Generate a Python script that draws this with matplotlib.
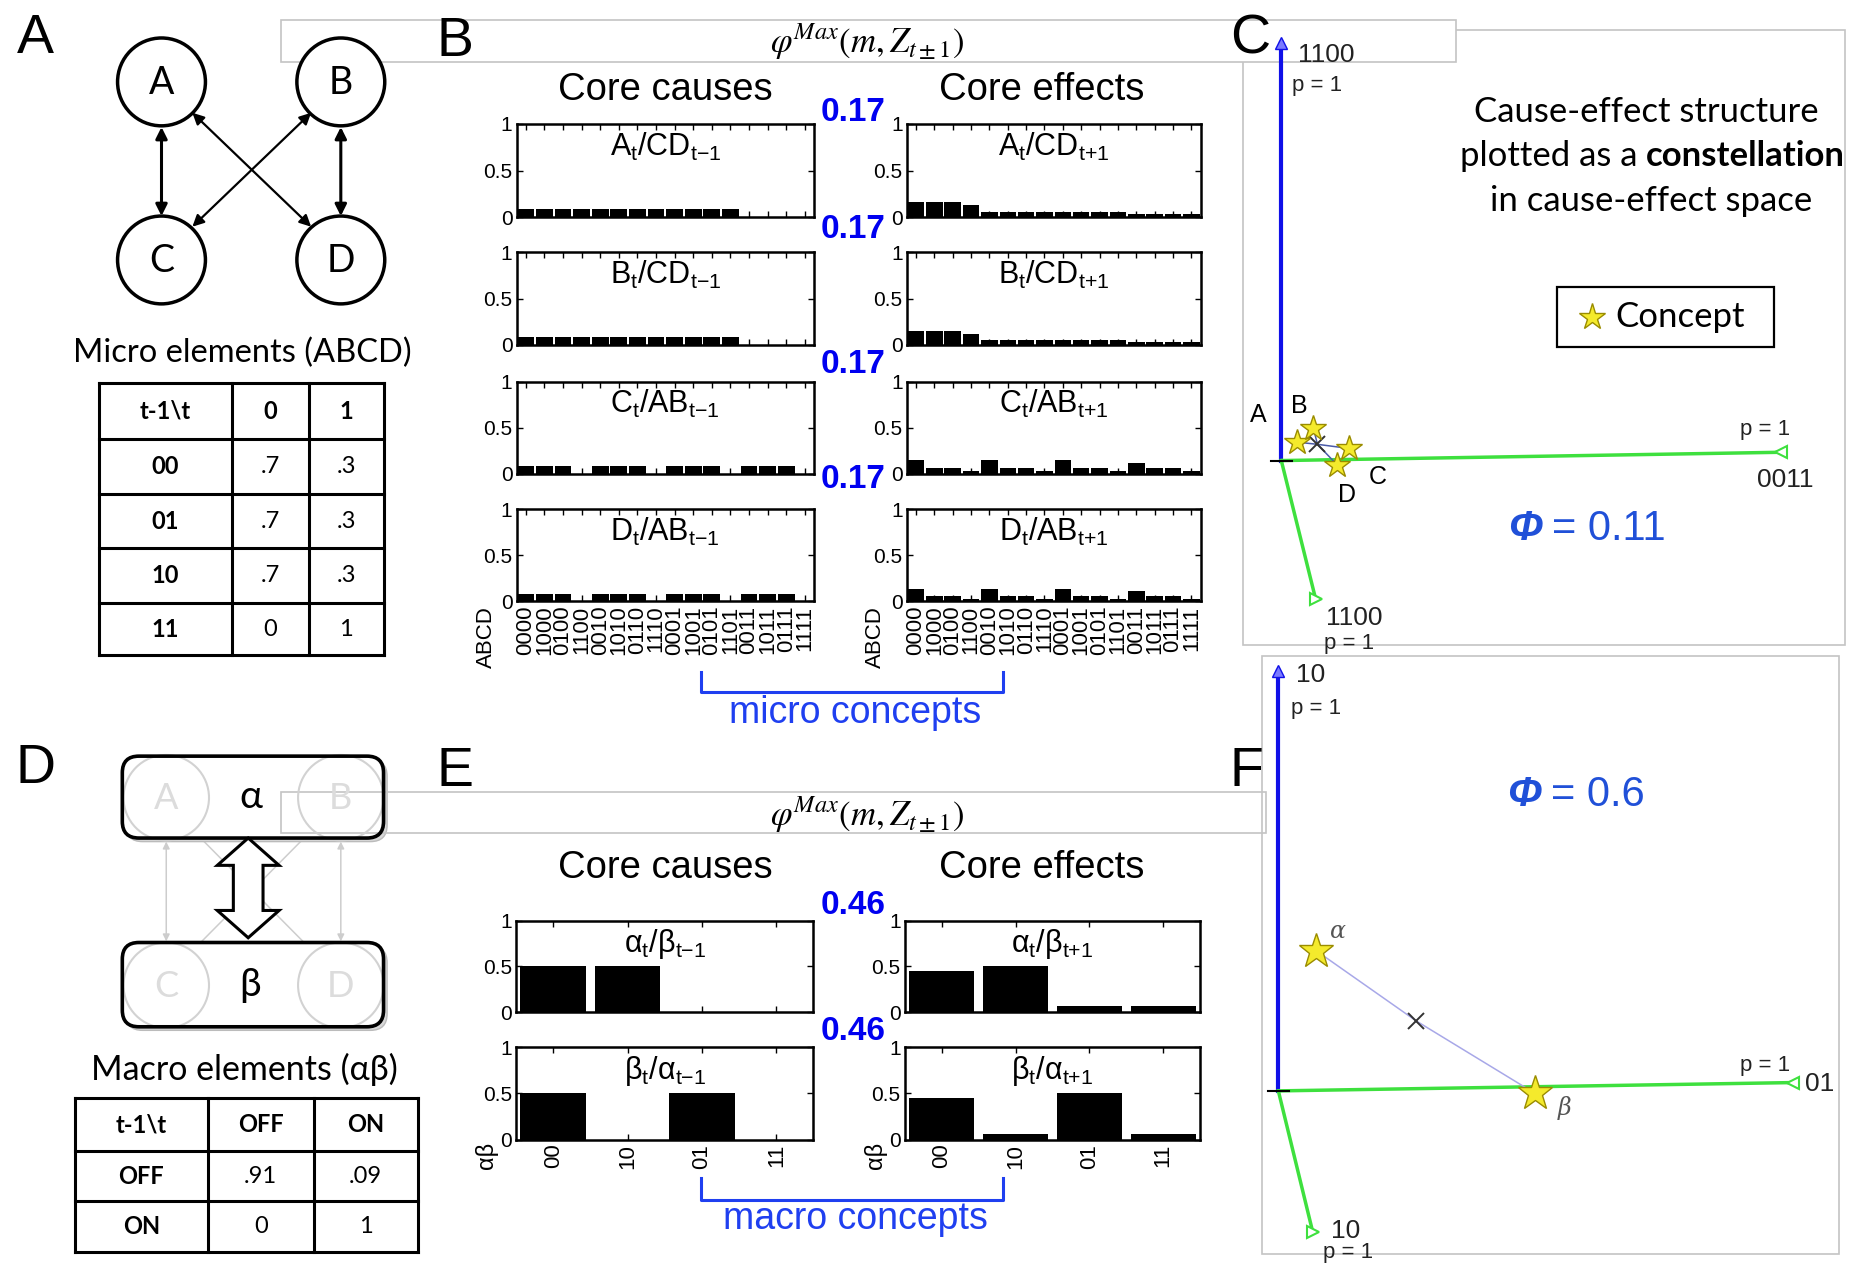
import matplotlib
matplotlib.use('Agg')
import matplotlib.pyplot as plt
from matplotlib.patches import Circle, FancyBboxPatch, Rectangle, Polygon, FancyArrowPatch

# ---------------- data ----------------
micro_states = ['0000', '1000', '0100', '1100', '0010', '1010', '0110', '1110',
                '0001', '1001', '0101', '1101', '0011', '1011', '0111', '1111']
micro_cause_titles = [r'A_t/CD_{t{-}1}', r'B_t/CD_{t{-}1}', r'C_t/AB_{t{-}1}', r'D_t/AB_{t{-}1}']
micro_effect_titles = [r'A_t/CD_{t{+}1}', r'B_t/CD_{t{+}1}', r'C_t/AB_{t{+}1}', r'D_t/AB_{t{+}1}']
cause_A = [0.085, 0.085, 0.085, 0.085, 0.085, 0.085, 0.085, 0.085, 0.085, 0.085, 0.085, 0.085, 0, 0, 0, 0]
cause_B = [0.085, 0.085, 0.085, 0.085, 0.085, 0.085, 0.085, 0.085, 0.085, 0.085, 0.085, 0.085, 0, 0, 0, 0]
cause_C = [0.085, 0.085, 0.085, 0, 0.085, 0.085, 0.085, 0, 0.085, 0.085, 0.085, 0, 0.085, 0.085, 0.085, 0]
cause_D = [0.085, 0.085, 0.085, 0, 0.085, 0.085, 0.085, 0, 0.085, 0.085, 0.085, 0, 0.085, 0.085, 0.085, 0]
effect_A = [0.16, 0.16, 0.16, 0.13, 0.06, 0.06, 0.06, 0.06, 0.06, 0.06, 0.06, 0.06, 0.035, 0.035, 0.035, 0.035]
effect_B = [0.15, 0.15, 0.15, 0.12, 0.055, 0.055, 0.055, 0.055, 0.055, 0.055, 0.055, 0.055, 0.03, 0.03, 0.03, 0.03]
effect_C = [0.15, 0.06, 0.06, 0.03, 0.15, 0.06, 0.06, 0.03, 0.15, 0.06, 0.06, 0.03, 0.12, 0.06, 0.06, 0.03]
effect_D = [0.14, 0.06, 0.06, 0.03, 0.14, 0.06, 0.06, 0.03, 0.14, 0.06, 0.06, 0.03, 0.11, 0.06, 0.06, 0.03]
micro_phi = [0.17, 0.17, 0.17, 0.17]

macro_states = ['00', '10', '01', '11']
macro_cause_titles = [r'\alpha_t/\beta_{t{-}1}', r'\beta_t/\alpha_{t{-}1}']
macro_effect_titles = [r'\alpha_t/\beta_{t{+}1}', r'\beta_t/\alpha_{t{+}1}']
cause_alpha = [0.5, 0.5, 0, 0]
cause_beta = [0.5, 0, 0.5, 0]
effect_alpha = [0.45, 0.5, 0.065, 0.065]
effect_beta = [0.45, 0.065, 0.5, 0.065]
macro_phi = [0.46, 0.46]

micro_tpm_header = ['t-1\\t', '0', '1']
micro_tpm_rows = [['00', '.7', '.3'], ['01', '.7', '.3'], ['10', '.7', '.3'], ['11', '0', '1']]
macro_tpm_header = ['t-1\\t', 'OFF', 'ON']
macro_tpm_rows = [['OFF', '.91', '.09'], ['ON', '0', '1']]

micro_nodes = ['A', 'B', 'C', 'D']
macro_nodes = ['α', 'β']

# constellation (projected positions, panel pixel units relative to origin)
micro_axis_labels = ['1100', '0011', '1100']
micro_concepts = ['A', 'B', 'C', 'D']
micro_cx = [13.6, 27.0, 57.0, 47.0]
micro_cy = [15.5, 27.5, 10.2, -3.6]
micro_centroid = [30.4, 13.7]
micro_Phi = 0.11
macro_axis_labels = ['10', '01', '10']
macro_concepts = ['α', 'β']
macro_cx = [32.0, 216.0]
macro_cy = [118.0, -2.0]
macro_centroid = [116.0, 59.0]
macro_Phi = 0.6

# ---------------- layout ----------------
SW, SH = 1568.0, 1080.0
SANS = ['Liberation Sans', 'DejaVu Sans']
HUM = ['Lato', 'DejaVu Sans']
plt.rcParams['font.family'] = SANS

fig = plt.figure(figsize=(18.62, 12.82), dpi=100)
bg = fig.add_axes([0, 0, 1, 1])
bg.set_xlim(0, SW)
bg.set_ylim(SH, 0)
bg.axis('off')


def rect(x0, y0, x1, y1):
    return [x0 / SW, 1 - y1 / SH, (x1 - x0) / SW, (y1 - y0) / SH]


GRAY = '#c4c4c4'
# frames
bg.add_patch(Rectangle((1047, 25), 507, 518, fc='white', ec=GRAY, lw=1.2, zorder=1))
bg.add_patch(Rectangle((1063, 553), 486, 503, fc='white', ec=GRAY, lw=1.2, zorder=1))
bg.add_patch(Rectangle((237, 17), 989, 35, fc='white', ec=GRAY, lw=1.2, zorder=2))

# panel letters
for lab, (x, y) in zip('ABCDEF', [(30, 33), (383, 35), (1053, 33), (30, 648), (383, 650), (1050, 650)]):
    bg.text(x, y, lab, fontsize=40, ha='center', va='center', zorder=10)

# ---- panel A ----
node_xy = [(136, 69), (287, 69), (136, 219), (287, 219)]
for name, (cx, cy) in zip(micro_nodes, node_xy):
    bg.add_patch(Circle((cx, cy), 37, fc='white', ec='black', lw=2.5, zorder=3))
    bg.text(cx, cy + 1, name, ha='center', va='center', fontsize=27, family=HUM, zorder=4)
for (p, q, lw) in [((136, 107), (136, 182), 2.2), ((287, 107), (287, 182), 2.2),
                   ((162, 95), (262, 191), 1.6), ((262, 95), (162, 191), 1.6)]:
    bg.add_patch(FancyArrowPatch(p, q, arrowstyle='<|-|>', mutation_scale=17, lw=lw,
                                 color='black', shrinkA=0, shrinkB=0, zorder=3))
bg.text(204, 297, 'Micro elements (ABCD)', ha='center', va='center', fontsize=23.5, family=HUM)


def draw_table(xe, ye, header, rows, fs):
    x0, x1 = xe[0], xe[-1]
    y0, y1 = ye[0], ye[-1]
    for x in xe:
        bg.plot([x, x], [y0, y1], color='black', lw=2.2, solid_capstyle='projecting')
    for y in ye:
        bg.plot([x0, x1], [y, y], color='black', lw=2.2, solid_capstyle='projecting')
    allrows = [header] + rows
    for i, r in enumerate(allrows):
        for j, t in enumerate(r):
            cx = (xe[j] + xe[j + 1]) / 2
            cy = (ye[i] + ye[i + 1]) / 2
            bold = (i == 0 or j == 0)
            bg.text(cx, cy, t, ha='center', va='center', fontsize=fs, family=HUM,
                    fontweight='bold' if bold else 'normal')


draw_table([83, 195, 260, 323], [323, 370, 416, 462, 508, 552], micro_tpm_header, micro_tpm_rows, 17)

# ---- panel D ----
faint = '#d2d2d2'
for (y0, h) in [(637, 69), (794, 71)]:
    bg.add_patch(FancyBboxPatch((106, y0 + 3), 220, h, boxstyle='round,pad=0,rounding_size=14',
                                fc='#d8d8d8', ec='#bbbbbb', lw=1, zorder=2))
    bg.add_patch(FancyBboxPatch((103, y0), 220, h, boxstyle='round,pad=0,rounding_size=14',
                                fc='white', ec='none', lw=0, zorder=2.6))
    bg.add_patch(FancyBboxPatch((103, y0), 220, h, boxstyle='round,pad=0,rounding_size=14',
                                fc='none', ec='black', lw=2.6, zorder=5))
bg.add_patch(Rectangle((237, 667), 829, 35, fc='none', ec=GRAY, lw=1.2, zorder=2.8))
for (cx, cy) in [(140, 672), (287, 672), (140, 830), (287, 830)]:
    bg.add_patch(Circle((cx, cy), 36, fc='none', ec=faint, lw=1.5, zorder=3))
for (p, q) in [((140, 709), (140, 793)), ((287, 709), (287, 793)),
               ((163, 700), (262, 800)), ((262, 700), (163, 800))]:
    bg.add_patch(FancyArrowPatch(p, q, arrowstyle='<|-|>', mutation_scale=10, lw=1.1,
                                 color='#cdcdcd', shrinkA=0, shrinkB=0, zorder=1.5))
for name, (cx, cy) in zip(micro_nodes, [(140, 672), (287, 672), (140, 830), (287, 830)]):
    bg.text(cx, cy + 1, name, ha='center', va='center', fontsize=26, family=HUM, color='#dcdcdc', zorder=4)
bg.text(211, 671, macro_nodes[0], ha='center', va='center', fontsize=28, family=HUM, zorder=6)
bg.text(211, 830, macro_nodes[1], ha='center', va='center', fontsize=28, family=HUM, zorder=6)
dbl = [(209, 706), (235, 729), (221.5, 729), (221.5, 767), (235, 767), (209, 790),
       (183, 767), (196.5, 767), (196.5, 729), (183, 729)]
bg.add_patch(Polygon(dbl, closed=True, fc='white', ec='black', lw=2.2, zorder=6))
bg.text(206, 901, 'Macro elements (αβ)', ha='center', va='center', fontsize=24.5, family=HUM)
draw_table([63, 175, 264, 352], [925, 970, 1012, 1055], macro_tpm_header, macro_tpm_rows, 17)

# ---- headers of B and E ----
for y in (35, 686):
    bg.text(730, y, r'$\varphi^{Max}(m,Z_{t\pm1})$', ha='center', va='center', fontsize=25,
            math_fontfamily='stix', zorder=5)
for y in (76, 731):
    bg.text(560, y, 'Core causes', ha='center', va='center', fontsize=27.5)
    bg.text(877, y, 'Core effects', ha='center', va='center', fontsize=27.5)


def bar_axes(box, vals, title, labels, width):
    ax = fig.add_axes(rect(*box))
    n = len(vals)
    xs = list(range(1, n + 1))
    ax.bar(xs, vals, width=width, color='black', linewidth=0)
    ax.set_xlim(0.5, n + 0.5)
    ax.set_ylim(0, 1)
    ax.set_yticks([0, 0.5, 1])
    ax.set_yticklabels(['0', '0.5', '1'])
    ax.set_xticks(xs)
    ax.tick_params(direction='in', top=True, right=True, length=4, width=1,
                   labelsize=15, pad=3)
    if labels is not None:
        ax.set_xticklabels(labels, rotation=90, fontsize=16)
    else:
        ax.set_xticklabels([])
    for s in ax.spines.values():
        s.set_linewidth(1.8)
    ax.text(0.5, 0.93, r'$\mathregular{' + title + '}$', transform=ax.transAxes,
            ha='center', va='top', fontsize=22)
    return ax


micro_rows = [(104.4, 183), (212.5, 290.5), (321.4, 399), (429, 506.7)]
micro_causes = [cause_A, cause_B, cause_C, cause_D]
micro_effects = [effect_A, effect_B, effect_C, effect_D]
for i, (y0, y1) in enumerate(micro_rows):
    last = (i == len(micro_rows) - 1)
    bar_axes((435, y0, 685.6, y1), micro_causes[i], micro_cause_titles[i],
             micro_states if last else None, 0.9)
    bar_axes((763.6, y0, 1011, y1), micro_effects[i], micro_effect_titles[i],
             micro_states if last else None, 0.9)
for y, v in zip([95, 193, 307, 404], micro_phi):
    bg.text(746, y, f'{v:.2f}', color='#0000f0', fontsize=24, fontweight='bold',
            ha='right', va='center')
for x in (410, 737):
    bg.text(x, 511, 'ABCD', rotation=90, ha='center', va='top', fontsize=16)

macro_rows = [(775.6, 852.8), (882.3, 960)]
macro_causes = [cause_alpha, cause_beta]
macro_effects = [effect_alpha, effect_beta]
for i, (y0, y1) in enumerate(macro_rows):
    last = (i == len(macro_rows) - 1)
    bar_axes((434.5, y0, 685, y1), macro_causes[i], macro_cause_titles[i],
             macro_states if last else None, 0.88)
    bar_axes((762, y0, 1010.5, y1), macro_effects[i], macro_effect_titles[i],
             macro_states if last else None, 0.88)
for y, v in zip([763, 869], macro_phi):
    bg.text(746, y, f'{v:.2f}', color='#0000f0', fontsize=24, fontweight='bold',
            ha='right', va='center')
for x in (410, 737):
    bg.text(x, 962, 'αβ', rotation=90, ha='center', va='top', fontsize=17)

# brackets
BL = '#1f3ff0'
for (yt, yb, ytxt, txt) in [(566, 583, 601, 'micro concepts'), (992, 1011, 1027, 'macro concepts')]:
    bg.plot([590, 590, 845, 845], [yt, yb, yb, yt], color=BL, lw=2.2)
    bg.text(720, ytxt, txt, color=BL, fontsize=27, ha='center', va='center')


# ---- constellations ----
def constellation(ox, oy, ends, lab_pos, cx, cy, names, name_pos, centroid,
                  ms, greek, phi, phi_xy, line_col):
    (bx, by), (gx, gy), (lx, ly) = ends
    bg.plot([ox, ox + bx], [oy, oy - by], color='#1010e8', lw=3, zorder=3)
    bg.plot([ox + bx], [oy - by], marker='^', ms=8, mfc='#7a7aff', mec='#1010e8', zorder=3)
    bg.plot([ox, ox + gx], [oy, oy - gy], color='#3ee03e', lw=2.5, zorder=3)
    bg.plot([ox + gx], [oy - gy], marker='<', ms=8, mfc='white', mec='#3ee03e', mew=1.5, zorder=3)
    bg.plot([ox, ox + lx], [oy, oy - ly], color='#3ee03e', lw=2.5, zorder=3)
    bg.plot([ox + lx], [oy - ly], marker='>', ms=8, mfc='white', mec='#3ee03e', mew=1.5, zorder=3)
    bg.plot([ox - 9, ox + 9], [oy, oy], color='black', lw=1.5, zorder=4)
    for t, (x, y, ha) in zip(lab_pos[0], lab_pos[1]):
        fs = 16 if t.startswith('p') else 19
        bg.text(x, y, t, ha=ha, va='center', fontsize=fs, color='#222222', zorder=5)
    for x, y in zip(cx, cy):
        bg.plot([ox + x, ox + centroid[0]], [oy - y, oy - centroid[1]], color=line_col, lw=1.1, zorder=4)
    bg.plot([ox + centroid[0]], [oy - centroid[1]], marker='x', ms=11, mew=1.4, color='#333333', zorder=5)
    bg.plot([ox + x for x in cx], [oy - y for y in cy], ls='none', marker='*', ms=ms,
            mfc='#f4ea2c', mec='#9a8c00', mew=1.0, zorder=6)
    for n, (x, y) in zip(names, name_pos):
        if greek:
            bg.text(ox + x, oy - y, n, ha='center', va='center', fontsize=17, style='italic',
                    family=['DejaVu Serif'], color='#555555', zorder=6)
        else:
            bg.text(ox + x, oy - y, n, ha='center', va='center', fontsize=18, zorder=6)
    bg.text(phi_xy[0], phi_xy[1], 'Φ', ha='right', va='center', fontsize=30, style='italic',
            fontweight='bold', color='#2050d8', zorder=6)
    bg.text(phi_xy[0] + 8, phi_xy[1], f'= {phi}', ha='left', va='center', fontsize=30,
            color='#2050d8', zorder=6)


oxc, oyc = 1079, 388
constellation(oxc, oyc, [(0, 352), (421, 7), (29, -117)],
              (['1100', 'p = 1', 'p = 1', '0011', '1100', 'p = 1'],
               [(1093, 46, 'left'), (1088, 72, 'left'), (1486, 362, 'center'),
                (1503, 404, 'center'), (1140, 521, 'center'), (1136, 542, 'center')]),
              micro_cx, micro_cy, micro_concepts,
              [(-19, 38), (15, 46), (81, -14), (55, -29)], micro_centroid, 19, False,
              micro_Phi, (1299, 446), '#4a5aa8')
bg.text(1386, 94, 'Cause-effect structure', ha='center', va='center', fontsize=25, family=HUM)
bg.text(1379, 131, 'plotted as a', ha='right', va='center', fontsize=25, family=HUM)
bg.text(1386, 131, 'constellation', ha='left', va='center', fontsize=25, family=HUM, fontweight='bold')
bg.text(1390, 169, 'in cause-effect space', ha='center', va='center', fontsize=25, family=HUM)
bg.add_patch(Rectangle((1311, 242), 183, 50, fc='white', ec='black', lw=1.6, zorder=5))
bg.plot([1341], [267], marker='*', ms=20, mfc='#f4ea2c', mec='#9a8c00', mew=1.0, zorder=6)
bg.text(1360, 267, 'Concept', ha='left', va='center', fontsize=25, family=HUM, zorder=6)

oxf, oyf = 1076.5, 919
constellation(oxf, oyf, [(0, 354), (433, 7), (29, -119)],
              (['10', 'p = 1', 'p = 1', '01', '10', 'p = 1'],
               [(1091, 569, 'left'), (1087, 597, 'left'), (1486, 898, 'center'),
                (1520, 913, 'left'), (1121, 1037, 'left'), (1135, 1055, 'center')]),
              macro_cx, macro_cy, macro_concepts,
              [(50.5, 134), (241, -14.5)], macro_centroid, 26, True,
              macro_Phi, (1298, 670), '#a8a8e8')

fig.savefig('out.png', dpi=100)
